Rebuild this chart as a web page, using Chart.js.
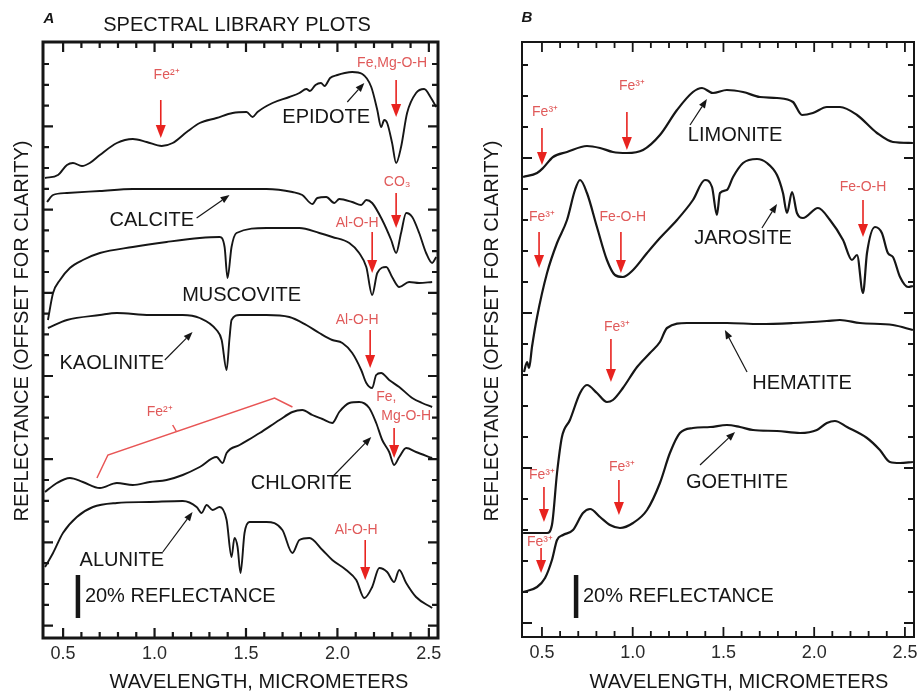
<!DOCTYPE html>
<html>
<head>
<meta charset="utf-8">
<script src="https://cdn.jsdelivr.net/npm/chart.js@4.4.0/dist/chart.umd.min.js"></script>
<style>
  body { margin: 0; background: #fff; }
  #wrap { position: relative; width: 923px; height: 693px; }
  #chartA { position: absolute; left: 0; top: 0; }
  #chartB { position: absolute; left: 460px; top: 0; }
</style>
</head>
<body>
<div id="wrap">
  <canvas id="chartA" width="460" height="693"></canvas>
  <canvas id="chartB" width="463" height="693"></canvas>
</div>
<script>
// Wavelength (micrometers), offset reflectance (arbitrary units, 43 units = 20%)
const xTickValues = [0.5, 1.0, 1.5, 2.0, 2.5];

// Panel A
const epidote = [[0.401,460],[0.472,463],[0.521,473],[0.554,475],[0.603,472],[0.646,475],[0.701,483],[0.794,495],[0.881,499],[0.957,496],[1.039,492],[1.099,495],[1.176,506],[1.247,515],[1.339,520],[1.427,525],[1.503,526],[1.536,521],[1.563,526],[1.645,535],[1.737,541],[1.792,545],[1.830,549],[1.850,547],[1.880,553],[1.910,555],[1.930,552],[1.960,560],[2.000,563],[2.040,565],[2.081,566],[2.136,564],[2.185,551],[2.218,528],[2.239,511],[2.256,518],[2.272,515],[2.299,495],[2.321,475],[2.348,491],[2.381,525],[2.430,545],[2.474,549],[2.512,540],[2.540,531]];
const calcite = [[0.412,436],[0.445,443],[0.521,445],[0.701,447],[0.881,449],[1.066,449],[1.247,449],[1.427,449],[1.612,449],[1.754,446],[1.808,443],[1.863,434],[1.890,440],[1.939,441],[1.983,435],[2.010,439],[2.081,436],[2.130,433],[2.158,438],[2.190,435],[2.245,418],[2.294,398],[2.321,385],[2.348,405],[2.376,425],[2.409,421],[2.447,405],[2.485,385],[2.518,375],[2.540,381]];
const muscovite = [[0.417,318],[0.445,345],[0.483,358],[0.537,370],[0.608,378],[0.701,385],[0.881,391],[1.066,396],[1.247,400],[1.356,401],[1.383,391],[1.399,360],[1.421,391],[1.448,405],[1.612,410],[1.792,410],[1.901,405],[1.972,401],[2.065,395],[2.119,385],[2.158,371],[2.190,343],[2.218,365],[2.267,371],[2.299,361],[2.338,351],[2.392,356],[2.447,355],[2.518,356]];
const kaolinite = [[0.417,310],[0.521,318],[0.701,323],[0.794,325],[0.974,323],[1.154,323],[1.247,320],[1.339,308],[1.367,298],[1.394,268],[1.410,300],[1.421,318],[1.465,323],[1.612,323],[1.737,321],[1.830,313],[1.901,305],[1.972,298],[2.027,295],[2.081,285],[2.130,268],[2.158,255],[2.190,250],[2.212,263],[2.239,265],[2.283,258],[2.338,251],[2.409,240],[2.463,235],[2.518,231]];
const chlorite = [[0.401,146],[0.466,155],[0.537,160],[0.608,156],[0.701,150],[0.794,155],[0.881,153],[0.974,156],[1.066,158],[1.154,163],[1.247,171],[1.339,181],[1.372,175],[1.394,185],[1.465,193],[1.575,205],[1.683,218],[1.754,226],[1.808,228],[1.863,223],[1.918,219],[1.972,215],[2.010,226],[2.065,235],[2.119,236],[2.174,230],[2.212,215],[2.245,198],[2.283,186],[2.310,173],[2.338,181],[2.376,190],[2.430,186],[2.518,180]];
const alunite = [[0.401,71],[0.445,85],[0.499,105],[0.575,121],[0.663,131],[0.794,135],[0.974,136],[1.154,137],[1.230,131],[1.257,125],[1.285,133],[1.317,128],[1.356,131],[1.394,118],[1.421,81],[1.437,100],[1.454,91],[1.470,65],[1.492,105],[1.519,116],[1.612,116],[1.699,108],[1.754,85],[1.792,98],[1.847,100],[1.918,88],[1.972,78],[2.048,68],[2.103,58],[2.147,40],[2.190,51],[2.229,70],[2.272,66],[2.310,56],[2.338,68],[2.376,55],[2.430,41],[2.518,30]];

// Panel B
const limonite = [[0.396,460],[0.473,464],[0.506,469],[0.561,480],[0.638,485],[0.748,491],[0.820,489],[0.891,485],[0.968,484],[1.057,487],[1.150,502],[1.244,527],[1.332,545],[1.382,549],[1.442,544],[1.519,547],[1.608,545],[1.701,540],[1.795,539],[1.883,535],[1.933,522],[1.993,524],[2.070,530],[2.142,530],[2.236,522],[2.346,504],[2.434,495],[2.544,494]];
const jarosite = [[0.401,265],[0.418,275],[0.429,269],[0.445,290],[0.473,320],[0.528,364],[0.583,394],[0.638,417],[0.682,447],[0.710,457],[0.748,444],[0.803,410],[0.858,377],[0.902,362],[0.946,360],[1.002,367],[1.079,384],[1.150,399],[1.244,417],[1.332,437],[1.398,457],[1.437,450],[1.464,422],[1.481,444],[1.519,447],[1.553,460],[1.608,474],[1.685,478],[1.740,474],[1.795,462],[1.828,444],[1.850,424],[1.878,445],[1.905,424],[1.938,419],[2.021,429],[2.087,417],[2.159,397],[2.208,377],[2.236,382],[2.269,344],[2.291,384],[2.335,410],[2.373,404],[2.406,384],[2.434,380],[2.473,360],[2.517,350],[2.544,351]];
const hematite = [[0.396,104],[0.528,104],[0.555,112],[0.583,164],[0.610,200],[0.654,217],[0.710,244],[0.748,252],[0.803,244],[0.858,235],[0.891,237],[0.946,249],[1.024,270],[1.095,284],[1.150,295],[1.189,309],[1.299,314],[1.519,314],[1.701,313],[1.883,314],[2.070,316],[2.142,317],[2.252,314],[2.434,312],[2.544,307]];
const goethite = [[0.396,45],[0.473,50],[0.517,59],[0.555,77],[0.583,97],[0.616,102],[0.671,107],[0.726,124],[0.765,128],[0.820,120],[0.875,112],[0.930,109],[1.002,114],[1.079,127],[1.150,154],[1.205,184],[1.260,204],[1.332,209],[1.426,210],[1.519,212],[1.591,210],[1.663,207],[1.795,206],[1.922,204],[2.015,207],[2.070,214],[2.114,216],[2.181,210],[2.291,199],[2.362,187],[2.417,175],[2.473,174],[2.544,175]];

// Mineral names: [text, wavelength, offset]
const namesA = [["EPIDOTE",1.939,521],["CALCITE",0.985,418],["MUSCOVITE",1.476,343],["KAOLINITE",0.766,275],["CHLORITE",1.803,155],["ALUNITE",0.821,78]];
const namesB = [["LIMONITE",1.564,502],["JAROSITE",1.608,399],["HEMATITE",1.933,254],["GOETHITE",1.575,155]];
// Pointer arrows to the curves: [fromX, fromY, toX, toY]
const pointersA = [[2.054,536,2.147,555],[1.230,420,1.410,443],[1.056,278,1.208,306],[1.972,161,2.185,201],[1.045,86,1.208,126]];
const pointersB = [[1.316,512,1.409,538],[1.712,409,1.795,433],[1.630,265,1.508,307],[1.371,172,1.564,205]];
// Absorption features: [label, labelX, labelY, arrowX, arrowTop, arrowBottom]
const bandsA = [["Fe²⁺",1.066,563,1.034,538,500],["Fe,Mg-O-H",2.299,575,2.321,558,521],["CO₃",2.327,456,2.321,445,410],["Al-O-H",2.108,415,2.190,406,365],["Al-O-H",2.108,318,2.179,308,270],["Mg-O-H",2.376,222,2.310,210,180],["Al-O-H",2.103,108,2.152,98,58]];
const extraLabelsA = [["Fe,",2.267,241],["Fe²⁺",1.028,226]];
const bracketA = [[0.685,160],[0.745,183],[1.656,240],[1.754,231]];
const bracketTickA = [[1.121,206],[1.099,213]];
const bandsB = [["Fe³⁺",0.517,525,0.500,509,472],["Fe³⁺",0.996,551,0.968,525,487],["Fe³⁺",0.500,420,0.484,405,369],["Fe-O-H",0.946,420,0.935,405,364],["Fe-O-H",2.269,450,2.269,437,400],["Fe³⁺",0.913,310,0.880,298,255],["Fe³⁺",0.500,162,0.511,150,115],["Fe³⁺",0.941,170,0.924,157,122],["Fe³⁺",0.489,95,0.495,89,64]];
// 20% reflectance scale bar: [x, bottom, top], label position
const barA = [0.581, 20, 63], barLabelA = [0.619, 42];
const barB = [0.688, 19, 62], barLabelB = [0.726, 41];

const X_MIN = 0.39, X_MAX = 2.55;
const FONT = "'Liberation Sans', Arial, sans-serif";
const RED = '#e8231f', RED_TEXT = '#e05a5a', INK = '#161616';

function toXY(arr) { return arr.map(([x, y]) => ({ x, y })); }

function arrow(ctx, x1, y1, x2, y2, color, lw, hl, hw) {
  const ang = Math.atan2(y2 - y1, x2 - x1);
  const bx = x2 - hl * Math.cos(ang), by = y2 - hl * Math.sin(ang);
  ctx.strokeStyle = color; ctx.fillStyle = color; ctx.lineWidth = lw;
  ctx.beginPath(); ctx.moveTo(x1, y1); ctx.lineTo(bx, by); ctx.stroke();
  ctx.beginPath();
  ctx.moveTo(x2, y2);
  ctx.lineTo(bx + hw * Math.sin(ang), by - hw * Math.cos(ang));
  ctx.lineTo(bx - hw * Math.sin(ang), by + hw * Math.cos(ang));
  ctx.closePath(); ctx.fill();
}

function makePanelPlugin(cfg) {
  return {
    id: 'panel',
    afterDatasetsDraw(chart) {
      const { ctx, chartArea: a, scales: { x, y } } = chart;
      const X = v => x.getPixelForValue(v), Y = v => y.getPixelForValue(v);
      ctx.save();

      // inward ticks on all four sides
      ctx.strokeStyle = INK; ctx.lineWidth = cfg.tickWidth;
      ctx.beginPath();
      for (let i = 5; i <= 25; i++) {
        const px = X(i / 10), len = i % 5 === 0 ? 10 : 6;
        ctx.moveTo(px, a.top); ctx.lineTo(px, a.top + len);
        ctx.moveTo(px, a.bottom); ctx.lineTo(px, a.bottom - len);
      }
      cfg.yTicks.forEach((v, i) => {
        const py = Y(v), len = cfg.yMajor(i) ? 10 : 6;
        ctx.moveTo(a.left, py); ctx.lineTo(a.left + len, py);
        ctx.moveTo(a.right, py); ctx.lineTo(a.right - len, py);
      });
      ctx.stroke();

      // frame
      ctx.lineWidth = cfg.frame;
      ctx.strokeRect(a.left, a.top, a.right - a.left, a.bottom - a.top);

      // titles
      ctx.fillStyle = INK; ctx.textBaseline = 'middle'; ctx.textAlign = 'center';
      ctx.font = "italic bold 15px " + FONT;
      ctx.fillText(cfg.letter[0], cfg.letter[1], cfg.letter[2]);
      ctx.font = "20px " + FONT;
      if (cfg.title) ctx.fillText(cfg.title[0], cfg.title[1], cfg.title[2]);
      ctx.fillText('WAVELENGTH, MICROMETERS', cfg.xTitle[0], cfg.xTitle[1]);
      ctx.save();
      ctx.translate(cfg.yTitle[0], cfg.yTitle[1]); ctx.rotate(-Math.PI / 2);
      ctx.fillText('REFLECTANCE (OFFSET FOR CLARITY)', 0, 0);
      ctx.restore();

      // mineral names and pointers
      cfg.names.forEach(([t, lx, ly]) => ctx.fillText(t, X(lx), Y(ly)));
      cfg.pointers.forEach(([x1, y1, x2, y2]) => arrow(ctx, X(x1), Y(y1), X(x2), Y(y2), INK, 1.2, 9, 3.5));

      // scale bar
      ctx.lineWidth = 4.5; ctx.strokeStyle = INK;
      ctx.beginPath(); ctx.moveTo(X(cfg.bar[0]), Y(cfg.bar[1])); ctx.lineTo(X(cfg.bar[0]), Y(cfg.bar[2])); ctx.stroke();
      ctx.textAlign = 'left';
      ctx.fillText('20% REFLECTANCE', X(cfg.barLabel[0]), Y(cfg.barLabel[1]));

      // absorption bands
      ctx.textAlign = 'center';
      ctx.font = "14px " + FONT;
      cfg.bands.forEach(([t, lx, ly, ax, at, ab]) => {
        ctx.fillStyle = RED_TEXT;
        ctx.fillText(t, X(lx), Y(ly));
        arrow(ctx, X(ax), Y(at), X(ax), Y(ab), RED, 1.6, 13, 5);
      });
      ctx.fillStyle = RED_TEXT;
      (cfg.extraLabels || []).forEach(([t, lx, ly]) => ctx.fillText(t, X(lx), Y(ly)));
      if (cfg.bracket) {
        ctx.strokeStyle = '#e85555'; ctx.lineWidth = 1.5;
        ctx.beginPath();
        cfg.bracket.forEach(([bx, by], i) => i ? ctx.lineTo(X(bx), Y(by)) : ctx.moveTo(X(bx), Y(by)));
        ctx.moveTo(X(cfg.bracketTick[0][0]), Y(cfg.bracketTick[0][1]));
        ctx.lineTo(X(cfg.bracketTick[1][0]), Y(cfg.bracketTick[1][1]));
        ctx.stroke();
      }
      ctx.restore();
    }
  };
}

function makeChart(id, series, cfg) {
  return new Chart(document.getElementById(id), {
    type: 'line',
    data: {
      datasets: series.map(s => ({
        data: toXY(s),
        borderColor: INK,
        borderWidth: cfg.lineWidth,
        pointRadius: 0,
        cubicInterpolationMode: 'monotone'
      }))
    },
    options: {
      responsive: false,
      animation: false,
      devicePixelRatio: 1,
      events: [],
      layout: { padding: cfg.padding },
      plugins: { legend: { display: false }, tooltip: { enabled: false } },
      scales: {
        x: {
          type: 'linear', min: X_MIN, max: X_MAX,
          grid: { display: false, drawTicks: false }, border: { display: false },
          afterBuildTicks: s => { s.ticks = xTickValues.map(v => ({ value: v })); },
          afterFit: s => { s.height = cfg.xAxisHeight; s.paddingLeft = 0; s.paddingRight = 0; },
          ticks: { autoSkip: false, maxRotation: 0, padding: 5, color: '#2a2a2a',
                   font: { family: FONT, size: 18 }, callback: v => Number(v).toFixed(1) }
        },
        y: {
          min: 0, max: cfg.yMax,
          grid: { display: false, drawTicks: false }, border: { display: false },
          ticks: { display: false },
          afterFit: s => { s.width = cfg.yAxisWidth; s.paddingTop = 0; s.paddingBottom = 0; }
        }
      }
    },
    plugins: [makePanelPlugin(cfg)]
  });
}

const yTicksA = [], yTicksB = [];
for (let k = 0; k <= 27; k++) yTicksA.push(574 - 20.8 * k);
for (let k = 0; k <= 18; k++) yTicksB.push(14 + 31 * k);

makeChart('chartA', [epidote, calcite, muscovite, kaolinite, chlorite, alunite], {
  padding: { left: 0, top: 42, right: 22, bottom: 0 },
  xAxisHeight: 55, yAxisWidth: 43, yMax: 596, frame: 3, tickWidth: 2.2, lineWidth: 1.9,
  yTicks: yTicksA, yMajor: i => i % 4 === 3,
  letter: ['A', 49, 19], title: ['SPECTRAL LIBRARY PLOTS', 237, 25],
  xTitle: [259, 682], yTitle: [22, 331],
  names: namesA, pointers: pointersA, bands: bandsA, extraLabels: extraLabelsA,
  bracket: bracketA, bracketTick: bracketTickA, bar: barA, barLabel: barLabelA
});

makeChart('chartB', [limonite, jarosite, hematite, goethite], {
  padding: { left: 0, top: 42, right: 9, bottom: 0 },
  xAxisHeight: 56, yAxisWidth: 62, yMax: 595, frame: 2, tickWidth: 1.8, lineWidth: 2.2,
  yTicks: yTicksB, yMajor: i => i % 5 === 0,
  letter: ['B', 67, 18], title: null,
  xTitle: [279, 682], yTitle: [32, 331],
  names: namesB, pointers: pointersB, bands: bandsB,
  bar: barB, barLabel: barLabelB
});
</script>
</body>
</html>
